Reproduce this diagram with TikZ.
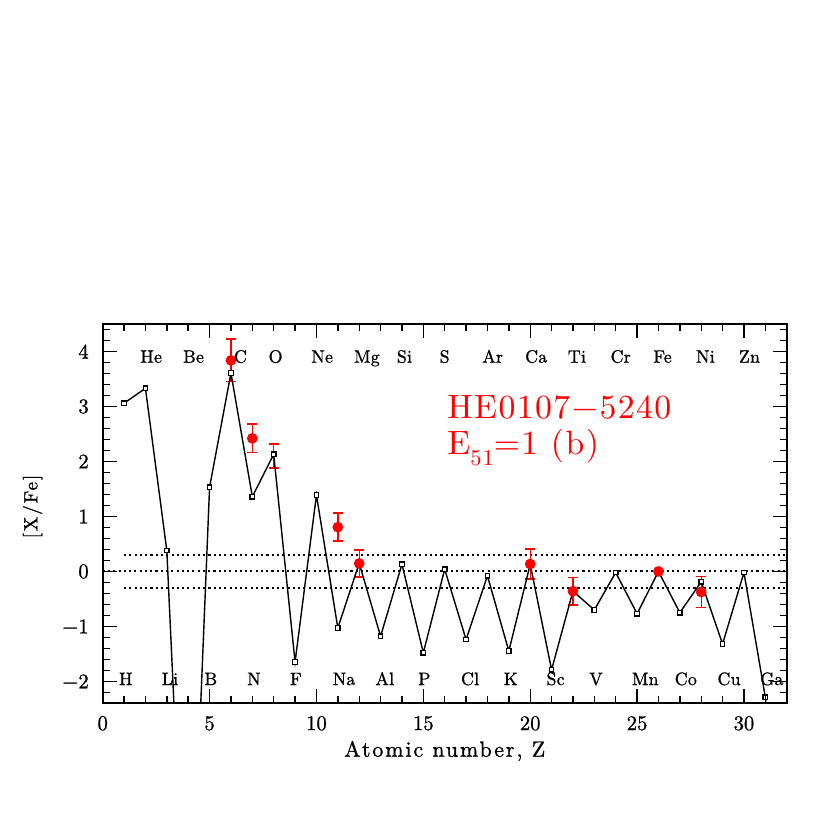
\documentclass[tikz,border=0pt]{standalone}
\usepackage{fontspec}
\setmainfont{lmroman10-regular.otf}
\begin{document}
\begin{tikzpicture}[x=0.21375cm,y=0.5497cm,
  frame/.style={line width=0.5pt},
  tickline/.style={line width=0.4pt},
  model/.style={line width=0.4pt,black},
  sq/.style={rectangle,draw=black,fill=white,line width=0.35pt,minimum size=0.045cm,inner sep=0pt},
  obs/.style={circle,fill=red,inner sep=0pt,minimum size=0.108cm},
  ebar/.style={red,line width=0.4pt},
  refline/.style={line width=0.4pt,dash pattern=on 0.6pt off 0.9pt},
  elem/.style={font=\fontsize{5.1pt}{6pt}\selectfont\addfontfeatures{FakeBold=1}\addfontfeatures{LetterSpace=1},anchor=base west,inner sep=0pt},
  ticklab/.style={font=\fontsize{5.9pt}{7pt}\selectfont\addfontfeatures{FakeBold=1},inner sep=0pt}
]
\useasboundingbox (-4.8047,-4.704) rectangle (34.026,10.395);
% reference lines
\draw[refline,line width=0.55pt] (0,0.005) -- (32,0.005);
\draw[refline] (1,0.3) -- (32,0.3);
\draw[refline] (1,-0.3) -- (32,-0.3);
% error bars
\foreach \z/\v/\e in {6/3.84/0.39,7/2.42/0.26,8/2.10/0.22,11/0.805/0.255,12/0.145/0.245,20/0.135/0.275,22/-0.36/0.25,28/-0.375/0.285}{
  \draw[ebar] (\z,\v-\e) -- (\z,\v+\e);
  \draw[ebar] (\z-0.234,\v-\e) -- (\z+0.234,\v-\e);
  \draw[ebar] (\z-0.234,\v+\e) -- (\z+0.234,\v+\e);
}
% model
\begin{scope}
\clip (0,-2.4) rectangle (32,4.5);
\draw[model] plot coordinates {(1,3.06) (2,3.33) (3,0.38) (4,-8) (5,1.53) (6,3.61) (7,1.36) (8,2.13) (9,-1.65) (10,1.39) (11,-1.03) (12,0.15) (13,-1.18) (14,0.13) (15,-1.48) (16,0.04) (17,-1.24) (18,-0.08) (19,-1.45) (20,0.13) (21,-1.79) (22,-0.36) (23,-0.70) (24,-0.02) (25,-0.77) (26,0.0) (27,-0.75) (28,-0.19) (29,-1.32) (30,-0.02) (31,-2.29) (32,-6)};
\foreach \z/\v in {1/3.06,2/3.33,3/0.38,5/1.53,6/3.61,7/1.36,8/2.13,9/-1.65,10/1.39,11/-1.03,12/0.15,13/-1.18,14/0.13,15/-1.48,16/0.04,17/-1.24,18/-0.08,19/-1.45,20/0.13,21/-1.79,22/-0.36,23/-0.70,24/-0.02,25/-0.77,26/0.0,27/-0.75,28/-0.19,29/-1.32,30/-0.02,31/-2.29}
  \node[sq] (m\z) at (\z,\v) {};
\end{scope}
% observed points
\foreach \z/\v in {6/3.84,7/2.42,11/0.805,12/0.145,20/0.135,22/-0.36,26/0.0,28/-0.375}
  \node[obs] (o\z) at (\z,\v) {};
% frame and ticks
\draw[frame] (0,-2.4) rectangle (32,4.5);
\foreach \i in {0,...,32}{
  \draw[tickline] (\i,-2.4) -- ++(0,0.127);
  \draw[tickline] (\i,4.5) -- ++(0,-0.127);
}
\foreach \i in {0,5,...,30}{
  \draw[tickline] (\i,-2.4) -- ++(0,0.255);
  \draw[tickline] (\i,4.5) -- ++(0,-0.255);
}
\foreach \i in {-12,...,22}{
  \draw[tickline] (0,{\i*0.2}) -- ++(0.3275,0);
  \draw[tickline] (32,{\i*0.2}) -- ++(-0.3275,0);
}
\foreach \i in {-2,...,4}{
  \draw[tickline] (0,\i) -- ++(0.655,0);
  \draw[tickline] (32,\i) -- ++(-0.655,0);
}
% tick labels
\foreach \v/\t in {4/4,3/3,2/2,1/1,0/0,-1/−1,-2/−2}
  \node[ticklab,anchor=east] (yl\v) at (-0.62,\v) {\t};
\foreach \v in {0,5,...,30}
  \node[ticklab,anchor=base] (xl\v) at (\v,-2.885) {\v};
% axis titles
\node[anchor=base,inner sep=0pt,font=\fontsize{6.26pt}{7pt}\selectfont\addfontfeatures{FakeBold=1}\addfontfeatures{LetterSpace=8.5}] (xt) at (16,-3.371) {Atomic number, Z};
\node[rotate=90,inner sep=0pt,font=\fontsize{5.5pt}{7pt}\selectfont\addfontfeatures{FakeBold=1}\addfontfeatures{LetterSpace=9.5}] (yt) at (-3.28,1.18) {[X/Fe]};
% element labels
\foreach \z/\n in {2/He,4/Be,8/O,10/Ne,12/Mg,14/Si,16/S,18/Ar,20/Ca,22/Ti,24/Cr,26/Fe,28/Ni,30/Zn}
  \node[elem] (e\z) at (\z-0.27,3.797) {\n};
\node[elem] (e6) at (6.11,3.797) {C};
\foreach \z/\n in {1/H,3/Li,5/B,7/N,9/F,11/Na,13/Al,15/P,17/Cl,19/K,21/Sc,23/V,25/Mn,27/Co,29/Cu,31/Ga}
  \node[elem] (e\z) at (\z-0.27,-2.067) {\n};
% title
\node[anchor=base west,inner sep=0pt,text=red,font=\fontsize{9.6pt}{11pt}\selectfont\addfontfeatures{LetterSpace=4.3}] (t1) at (16.09,2.785) {HE0107−5240};
\node[anchor=base west,inner sep=0pt,text=red,font=\fontsize{9.6pt}{11pt}\selectfont\addfontfeatures{LetterSpace=4.3}] (t2) at (16.09,2.118) {E\raisebox{-0.3em}{\fontsize{6.4pt}{7pt}\selectfont 51}=1 (b)};
\end{tikzpicture}
\end{document}
